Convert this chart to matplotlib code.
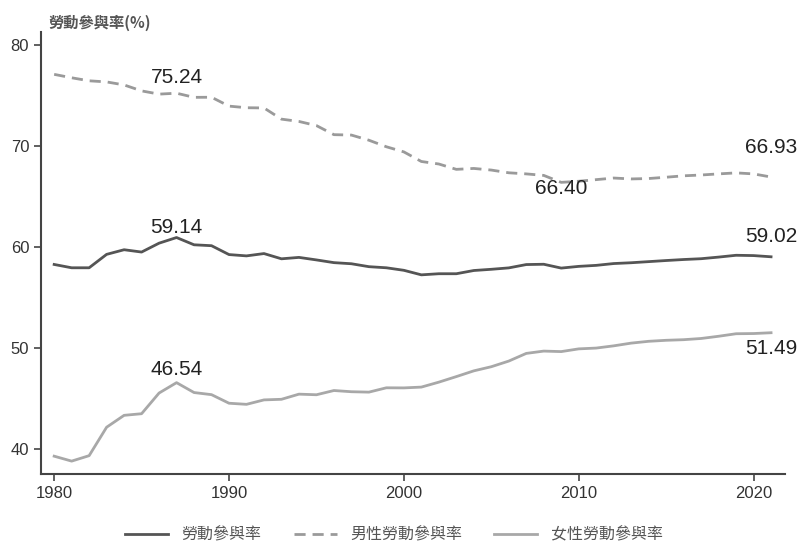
import matplotlib.pyplot as plt

plt.rcParams['font.family'] = ['Noto Sans CJK TC', 'DejaVu Sans']

years = list(range(1980, 2022))

# 勞動參與率
total = [58.26, 57.93, 57.93, 59.26, 59.72, 59.49, 60.37, 60.93, 60.21, 60.12,
         59.24, 59.11, 59.34, 58.82, 58.96, 58.71, 58.44, 58.33, 58.04, 57.93,
         57.68, 57.23, 57.34, 57.34, 57.66, 57.78, 57.92, 58.25, 58.28, 57.90,
         58.07, 58.17, 58.35, 58.43, 58.54, 58.65, 58.75, 58.83, 58.99, 59.17,
         59.14, 59.02]
# 男性勞動參與率
male = [77.11, 76.77, 76.47, 76.36, 76.06, 75.47, 75.15, 75.24, 74.83, 74.84,
        73.96, 73.80, 73.78, 72.67, 72.44, 72.03, 71.13, 71.09, 70.58, 69.93,
        69.42, 68.47, 68.22, 67.69, 67.78, 67.62, 67.35, 67.24, 67.09, 66.40,
        66.51, 66.67, 66.83, 66.74, 66.78, 66.91, 67.05, 67.13, 67.24, 67.34,
        67.24, 66.93]
# 女性勞動參與率
female = [39.25, 38.76, 39.30, 42.12, 43.30, 43.46, 45.51, 46.54, 45.56, 45.35,
          44.50, 44.39, 44.83, 44.89, 45.40, 45.34, 45.76, 45.64, 45.60, 46.03,
          46.02, 46.10, 46.59, 47.14, 47.71, 48.12, 48.68, 49.44, 49.67, 49.62,
          49.89, 49.97, 50.19, 50.46, 50.64, 50.74, 50.80, 50.92, 51.14, 51.39,
          51.41, 51.49]

# (text, year, value) for the labels on the chart
labels = [("75.24", 1987, 76.8), ("59.14", 1987, 61.9), ("46.54", 1987, 47.8),
          ("66.40", 2009, 65.8), ("66.93", 2021, 69.9), ("59.02", 2021, 61.0),
          ("51.49", 2021, 49.9)]

num_font = ['Liberation Sans', 'DejaVu Sans']

fig = plt.figure(figsize=(8, 5.44), dpi=100)
ax = fig.add_axes([0.0513, 0.129, 0.93, 0.812])

ax.plot(years, total, color='#555555', lw=2.0, label='勞動參與率')
ax.plot(years, male, color='#9a9a9a', lw=2.0, ls=(0, (4, 2.5)), label='男性勞動參與率')
ax.plot(years, female, color='#a8a8a8', lw=2.0, label='女性勞動參與率')

for txt, x, y in labels:
    ax.text(x, y, txt, ha='center', va='center', fontsize=15, color='#222222',
            family=num_font)

ax.set_xlim(1979.25, 2021.8)
ax.set_ylim(37.5, 81.3)
ax.set_xticks([1980, 1990, 2000, 2010, 2020])
ax.set_yticks([40, 50, 60, 70, 80])
for s in ['top', 'right']:
    ax.spines[s].set_visible(False)
for s in ['left', 'bottom']:
    ax.spines[s].set_color('#444444')
    ax.spines[s].set_linewidth(1.5)
ax.tick_params(colors='#444444', labelcolor='#333333', labelsize=12, width=1.2, length=5)
for t in ax.get_xticklabels() + ax.get_yticklabels():
    t.set_family(num_font)

fig.text(0.06, 0.958, '勞動參與率(%)', fontsize=11, color='#555555', ha='left',
         va='center', fontweight='bold')

fig.legend(loc='center', bbox_to_anchor=(0.4925, 0.0165), ncol=3, frameon=False,
           prop={'size': 11.5}, handlelength=2.7, handletextpad=0.85,
           columnspacing=2.0, labelcolor='#555555')

fig.savefig('out.png', dpi=100, facecolor='white')
